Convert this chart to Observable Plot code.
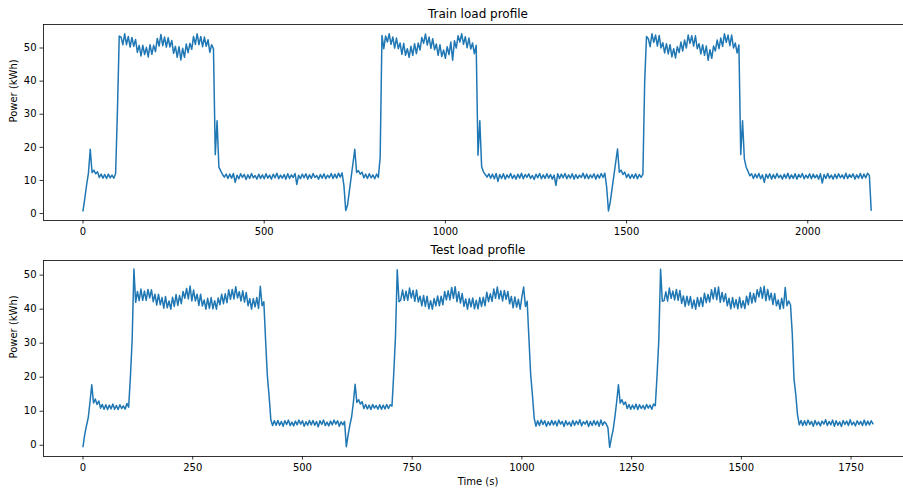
<!DOCTYPE html>
<html>
<head>
<meta charset="utf-8">
<script src="https://cdn.jsdelivr.net/npm/d3@7"></script>
<script src="https://cdn.jsdelivr.net/npm/@observablehq/plot@0.6"></script>
<style>
html, body { margin: 0; padding: 0; background: #fff; overflow: hidden; }
#chart { position: relative; width: 903px; height: 488px; overflow: hidden; background: #fff; }
#chart svg { position: absolute; left: 0; max-width: none !important; }
</style>
</head>
<body>
<div id="chart"></div>
<script>
// ---------- Train load profile (sampled every 5 s) ----------
const trainStep = 5;
const trainStarts = [0, 730, 1455];
const trainCycle1 = [
  0.8, 4.6, 8.7, 12.2, 19.4, 12.4, 13.1, 12.0, 12.6, 10.9,
  11.9, 10.7, 11.8, 10.6, 11.9, 10.8, 11.6, 10.7, 12.1, 31.0,
  53.6, 53.3, 51.0, 54.3, 51.0, 53.5, 50.3, 53.2, 50.5, 52.6,
  48.7, 50.8, 47.6, 50.8, 48.0, 50.2, 47.3, 51.0, 48.1, 50.8,
  48.9, 52.9, 50.6, 54.1, 50.7, 53.3, 50.3, 53.1, 50.3, 52.3,
  48.4, 50.5, 47.2, 50.4, 46.4, 49.9, 47.2, 51.2, 48.6, 51.4,
  49.6, 53.5, 51.1, 54.3, 51.0, 53.5, 50.4, 53.3, 50.5, 52.5,
  48.7, 51.0, 49.8, 17.8, 28.0, 14.0, 12.9, 11.8, 11.0, 11.9,
  10.6, 11.9, 10.7, 12.1, 9.4, 11.6, 10.5, 12.0, 10.9, 11.8,
  10.3, 11.7, 10.6, 12.1, 10.8, 11.5, 10.4, 11.9, 10.6, 11.7,
  10.5, 12.0, 10.7, 11.6, 10.4, 11.9, 10.8, 12.2, 10.5, 11.6,
  10.7, 11.8, 10.4, 12.0, 10.6, 11.7, 10.9, 12.1, 8.8, 11.6,
  10.5, 11.9, 10.8, 12.0, 10.4, 11.7, 10.6, 12.1, 10.9, 11.5,
  10.4, 11.8, 10.7, 12.0, 10.5, 11.6, 10.8, 12.1, 10.6, 11.9,
  10.7, 12.2, 11.0, 12.3, 8.5, 0.9
];
const trainCycle2 = [
  2.6, 6.8, 11.0, 15.2, 19.4, 12.4, 13.0, 11.9, 12.5, 10.8,
  11.9, 10.6, 12.0, 10.8, 11.7, 10.5, 11.9, 10.9, 17.0, 53.8,
  49.8, 53.6, 51.8, 54.3, 51.1, 53.3, 50.0, 53.0, 49.8, 51.5,
  48.1, 51.4, 47.8, 49.8, 47.2, 50.5, 47.8, 51.3, 48.3, 51.5,
  49.4, 53.2, 51.4, 54.2, 50.9, 53.3, 49.9, 52.8, 49.5, 51.2,
  47.8, 51.0, 47.4, 49.4, 46.9, 50.4, 48.0, 51.8, 46.3, 52.2,
  50.0, 53.7, 51.8, 54.3, 51.1, 53.4, 50.1, 53.0, 49.7, 51.5,
  48.3, 50.8, 17.6, 28.0, 14.2, 12.6, 11.8, 11.0, 12.0, 10.7,
  11.9, 10.5, 12.1, 9.7, 11.8, 10.6, 12.0, 10.4, 11.7, 10.8,
  12.1, 10.6, 11.6, 10.4, 11.9, 10.7, 12.2, 10.5, 11.8, 10.9,
  12.0, 10.6, 11.5, 10.3, 11.9, 10.8, 12.1, 10.5, 11.7, 10.6,
  12.0, 10.7, 11.8, 10.4, 11.6, 8.5, 12.0, 10.6, 11.9, 10.8,
  12.1, 10.5, 11.7, 10.7, 12.0, 10.4, 11.8, 10.6, 11.6, 10.9,
  12.2, 10.6, 11.9, 10.5, 11.7, 10.8, 12.0, 10.4, 11.8, 10.7,
  12.1, 10.9, 12.2, 8.0, 0.8
];
const trainCycle3 = [
  3.5, 7.5, 11.5, 15.5, 19.5, 12.5, 13.1, 11.8, 12.5, 10.9,
  11.9, 10.6, 11.8, 10.7, 12.0, 10.5, 11.8, 10.9, 11.8, 40.0,
  53.5, 52.8, 50.4, 54.3, 51.7, 53.9, 50.6, 53.8, 50.0, 51.6,
  48.5, 51.3, 48.2, 51.0, 47.3, 49.8, 47.0, 50.4, 48.6, 51.8,
  49.1, 52.4, 50.0, 53.9, 51.4, 53.7, 50.6, 53.7, 49.8, 51.3,
  48.2, 51.0, 47.8, 50.6, 46.3, 49.5, 46.9, 50.6, 49.1, 52.4,
  49.8, 53.0, 50.5, 54.3, 51.7, 53.9, 50.7, 53.9, 50.0, 51.5,
  48.5, 50.9, 17.8, 28.0, 16.5, 14.0, 12.8, 11.4, 12.0, 10.6,
  11.9, 10.8, 12.1, 10.5, 11.7, 9.4, 11.9, 10.7, 12.0, 10.4,
  11.8, 10.6, 12.1, 10.8, 11.6, 10.4, 11.9, 10.7, 12.2, 10.5,
  11.7, 10.6, 12.0, 10.4, 11.8, 10.9, 12.1, 10.5, 11.6, 10.7,
  12.0, 10.5, 11.9, 10.8, 11.7, 10.4, 12.0, 9.2, 11.8, 10.6,
  12.1, 10.7, 11.6, 10.4, 11.9, 10.6, 12.0, 10.8, 11.7, 10.5,
  12.2, 10.6, 11.8, 10.9, 12.0, 10.4, 11.7, 10.7, 12.1, 10.6,
  11.9, 10.8, 12.2, 11.5, 1.0
];

// ---------- Test load profile (sampled every 4 s) ----------
const testStep = 4;
const testStarts = [0, 600, 1200];
const testCycle1 = [
  -0.4, 3.2, 5.8, 8.1, 12.8, 17.8, 12.4, 13.6, 12.0, 13.0,
  10.9, 12.0, 10.6, 11.9, 10.5, 11.8, 10.7, 12.1, 10.6, 11.7,
  10.5, 11.9, 10.8, 11.6, 10.6, 12.3, 11.2, 20.0, 31.0, 51.8,
  42.0, 45.2, 42.5, 45.9, 42.6, 45.3, 42.6, 45.8, 43.3, 45.7,
  42.2, 44.4, 41.2, 44.4, 41.3, 43.4, 40.3, 43.7, 40.4, 42.4,
  40.0, 43.5, 40.8, 44.3, 41.1, 44.0, 41.6, 45.2, 43.2, 46.1,
  43.0, 46.8, 42.4, 45.6, 42.4, 44.4, 41.1, 44.4, 40.9, 42.7,
  40.0, 43.2, 40.2, 43.4, 40.1, 42.5, 40.0, 43.3, 41.3, 44.4,
  41.6, 44.5, 41.9, 45.7, 42.9, 45.8, 43.0, 46.6, 43.3, 45.1,
  42.4, 45.4, 42.1, 44.9, 41.0, 43.1, 40.0, 43.1, 40.7, 43.4,
  40.2, 46.7, 41.0, 42.2, 31.0, 20.5, 14.5, 7.5, 5.8, 7.2,
  5.9, 7.3, 5.9, 7.0, 5.6, 7.2, 6.1, 7.4, 5.8, 6.8,
  5.7, 7.1, 6.0, 7.4, 6.2, 7.2, 5.6, 6.9, 5.9, 7.3,
  6.0, 7.3, 5.9, 7.0, 5.4, 7.2, 6.1, 7.4, 5.8, 6.8,
  5.7, 7.1, 6.0, 7.4, 6.2, 7.2, 5.6, 6.9, 6.0, 7.0
];
const testCycle2 = [
  -0.4, 3.0, 5.9, 8.3, 12.5, 17.9, 12.6, 13.4, 12.1, 12.8,
  10.8, 12.0, 10.7, 11.8, 10.5, 12.0, 10.9, 11.7, 10.6, 11.9,
  10.6, 11.8, 10.7, 12.0, 10.8, 11.9, 11.5, 21.0, 32.0, 51.6,
  42.2, 42.7, 45.6, 42.6, 45.3, 42.6, 46.2, 43.3, 45.5, 42.3,
  45.6, 42.1, 43.8, 41.0, 44.0, 40.8, 43.8, 40.1, 42.5, 40.0,
  43.1, 41.0, 43.9, 41.0, 43.8, 41.3, 45.2, 42.7, 45.4, 42.7,
  46.4, 43.2, 46.6, 42.2, 45.1, 41.8, 44.6, 40.8, 43.0, 40.0,
  43.1, 40.7, 43.3, 40.1, 42.6, 40.1, 43.4, 40.8, 43.5, 41.0,
  45.0, 42.2, 44.5, 42.3, 45.9, 43.2, 46.5, 43.0, 45.4, 42.4,
  45.5, 42.9, 45.2, 41.6, 43.7, 40.4, 43.6, 40.6, 42.9, 40.0,
  43.6, 46.5, 40.8, 42.3, 31.5, 20.8, 14.8, 8.0, 5.6, 7.2,
  5.8, 7.4, 6.1, 7.2, 5.6, 6.9, 5.9, 7.3, 6.0, 7.1,
  5.7, 7.4, 6.2, 7.0, 5.5, 7.2, 6.0, 6.8, 5.6, 7.3,
  5.9, 7.1, 6.1, 7.5, 5.7, 6.9, 6.2, 7.2, 5.5, 7.0,
  5.8, 7.3, 6.0, 7.1, 5.6, 7.4, 5.9, 6.9, 6.3, 5.2
];
const testCycle3 = [
  -0.6, 2.2, 4.6, 8.4, 12.8, 17.8, 12.4, 13.4, 12.0, 12.7,
  10.8, 12.0, 10.6, 11.8, 10.7, 12.1, 10.5, 11.9, 10.8, 11.7,
  10.6, 12.0, 10.9, 11.8, 10.6, 12.1, 11.6, 20.5, 31.0, 51.7,
  42.3, 42.5, 45.1, 42.4, 46.2, 43.2, 45.3, 42.7, 45.8, 42.6,
  45.5, 41.7, 43.9, 40.8, 43.8, 41.2, 43.7, 40.3, 42.7, 40.0,
  43.4, 40.8, 43.4, 40.8, 44.7, 41.9, 44.3, 42.1, 45.7, 43.0,
  46.3, 42.8, 46.5, 42.0, 44.9, 42.2, 44.5, 41.0, 43.2, 40.1,
  43.4, 40.5, 42.8, 40.1, 43.5, 40.4, 42.5, 40.2, 43.8, 41.3,
  44.9, 41.8, 44.6, 42.1, 45.7, 43.6, 46.4, 43.2, 46.7, 42.5,
  45.8, 42.7, 44.7, 41.4, 44.6, 41.0, 42.7, 40.0, 43.2, 40.3,
  46.4, 41.0, 42.4, 41.3, 33.0, 19.5, 15.0, 9.0, 6.0, 7.3,
  5.8, 7.2, 5.9, 7.4, 6.1, 7.0, 5.6, 7.3, 6.0, 6.9,
  5.7, 7.1, 6.2, 7.5, 5.8, 7.0, 6.0, 7.4, 5.6, 7.2,
  5.9, 6.9, 5.5, 7.3, 6.1, 7.1, 5.8, 7.5, 6.0, 6.8,
  5.7, 7.2, 6.1, 7.0, 5.8, 7.4, 5.9, 7.1, 6.0, 7.2,
  6.3
];

// ---------- Axis ticks ----------
const trainXTicks = [0, 500, 1000, 1500, 2000];
const testXTicks = [0, 250, 500, 750, 1000, 1250, 1500, 1750];
const yTicks = [0, 10, 20, 30, 40, 50];

const titles = ["Train load profile", "Test load profile"];
const yLabel = "Power (kWh)";
const xLabel = "Time (s)";

function series(cycles, starts, step) {
  const out = [];
  cycles.forEach((vals, k) => vals.forEach((v, i) => out.push({t: starts[k] + i * step, v})));
  return out;
}
const trainData = series([trainCycle1, trainCycle2, trainCycle3], trainStarts, trainStep);
const testData = series([testCycle1, testCycle2, testCycle3], testStarts, testStep);

const FONT = "DejaVu Sans, sans-serif";
const BLUE = "#1f77b4";

function panel({data, xDomain, yDomain, xTicks, title, marginTop, marginBottom, withXLabel}) {
  const marks = [
    Plot.line(data, {x: "t", y: "v", stroke: BLUE, strokeWidth: 1.5, strokeLinejoin: "round"}),
    Plot.frame({stroke: "#000", strokeWidth: 0.8}),
    Plot.axisX(xTicks, {tickSize: 3.5, tickPadding: 3.5, tickFormat: "d", strokeWidth: 0.8, label: null, fontSize: 10}),
    Plot.axisY(yTicks, {tickSize: 3.5, tickPadding: 3.5, tickFormat: "d", strokeWidth: 0.8, label: null, fontSize: 10}),
    Plot.text([title], {frameAnchor: "top", lineAnchor: "middle", dy: -10, text: d => d, fontSize: 12, fill: "#000"}),
    Plot.text([yLabel], {frameAnchor: "left", lineAnchor: "middle", dx: -30, rotate: -90, text: d => d, fontSize: 10, fill: "#000"})
  ];
  if (withXLabel) marks.push(Plot.text([xLabel], {frameAnchor: "bottom", lineAnchor: "middle", dy: 25, text: d => d, fontSize: 10, fill: "#000"}));
  return Plot.plot({
    width: 920,
    height: 244,
    marginLeft: 43,
    marginRight: 8,
    marginTop,
    marginBottom,
    style: {fontFamily: FONT, fontSize: "10px", color: "#000", background: "transparent", overflow: "visible", maxWidth: "none"},
    x: {domain: xDomain, label: null},
    y: {domain: yDomain, label: null},
    marks
  });
}

const trainPlot = panel({
  data: trainData, xDomain: [-109, 2289], yDomain: [-2.1, 57.1], xTicks: trainXTicks,
  title: titles[0], marginTop: 24, marginBottom: 24, withXLabel: false
});
const testPlot = panel({
  data: testData, xDomain: [-90, 1890], yDomain: [-3.3, 54.3], xTicks: testXTicks,
  title: titles[1], marginTop: 16, marginBottom: 32, withXLabel: true
});
trainPlot.style.top = "0px";
testPlot.style.top = "244px";
const chart = document.getElementById("chart");
chart.appendChild(trainPlot);
chart.appendChild(testPlot);
</script>
</body>
</html>
